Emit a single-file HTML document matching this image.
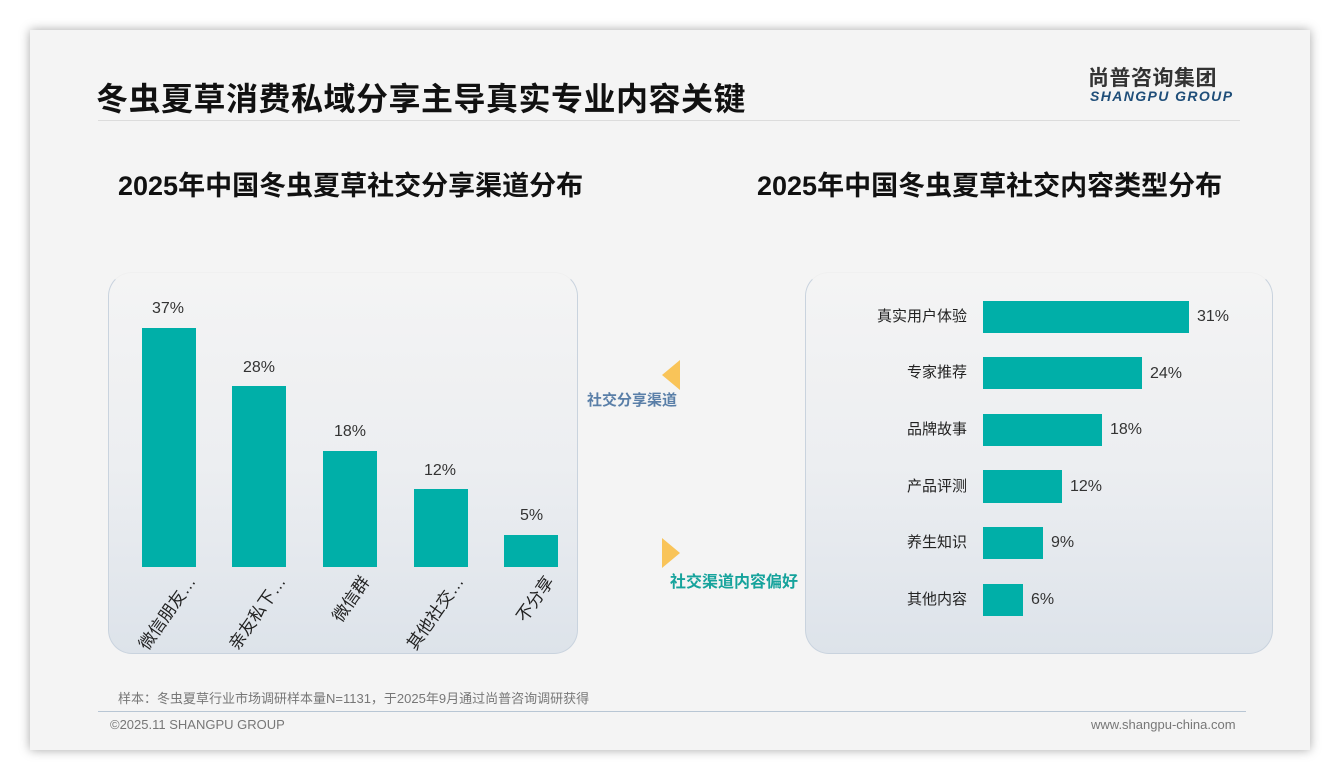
<!DOCTYPE html>
<html><head><meta charset="utf-8"><style>
*{margin:0;padding:0;box-sizing:border-box}
body{width:1340px;height:780px;background:#fff;position:relative;overflow:hidden;font-family:"Liberation Sans","Noto Sans CJK SC",sans-serif}
.card{position:absolute;left:30px;top:30px;width:1280px;height:720px;background:#f4f4f4;box-shadow:0 0 10px rgba(0,0,0,.35)}
.a{position:absolute;white-space:nowrap}
.panel{position:absolute;border-radius:24px;background:linear-gradient(#f4f4f4 0%,#eceef1 50%,#dde3ea 100%);border:1px solid #c9d3de;border-top-color:#f0f0f0}
.bar{position:absolute;background:#00afa8}
.v{position:absolute;font-size:16px;color:#333;white-space:nowrap;line-height:20px}
.xl{position:absolute;font-size:17px;color:#222;transform:rotate(-55deg);transform-origin:right top;white-space:nowrap}
.yl{position:absolute;font-size:15px;color:#222;text-align:right;width:120px;white-space:nowrap;line-height:20px}
</style></head><body>
<div class="card"></div>
<div class="a" style="left:96px;top:74px;font-size:32px;font-weight:bold;color:#111;letter-spacing:0.5px">冬虫夏草消费私域分享主导真实专业内容关键</div>
<div style="position:absolute;left:98px;top:120px;width:1142px;height:1px;background:#dcdcdc"></div>
<div class="a" style="left:1088px;top:62px;font-size:21px;font-weight:bold;color:#333;letter-spacing:0.5px">尚普咨询集团</div>
<div class="a" style="left:1090px;top:88px;font-size:14px;font-weight:bold;font-style:italic;color:#1f4e79;letter-spacing:1.4px">SHANGPU GROUP</div>
<div class="a" style="left:118px;top:164px;font-size:27px;font-weight:bold;color:#111">2025年中国冬虫夏草社交分享渠道分布</div>
<div class="a" style="left:757px;top:164px;font-size:27px;font-weight:bold;color:#111">2025年中国冬虫夏草社交内容类型分布</div>

<div class="panel" style="left:108px;top:272px;width:470px;height:382px"></div>
<div class="panel" style="left:805px;top:272px;width:468px;height:382px"></div>

<div class="bar" style="left:142px;top:328px;width:54px;height:239px"></div>
<div class="bar" style="left:232px;top:386px;width:54px;height:181px"></div>
<div class="bar" style="left:323px;top:451px;width:54px;height:116px"></div>
<div class="bar" style="left:414px;top:489px;width:54px;height:78px"></div>
<div class="bar" style="left:504px;top:535px;width:54px;height:32px"></div>
<div class="v" style="left:152px;top:299px">37%</div>
<div class="v" style="left:243px;top:358px">28%</div>
<div class="v" style="left:334px;top:422px">18%</div>
<div class="v" style="left:424px;top:461px">12%</div>
<div class="v" style="left:520px;top:506px">5%</div>
<div class="xl" style="right:1160px;top:570px">微信朋友…</div>
<div class="xl" style="right:1070px;top:570px">亲友私下…</div>
<div class="xl" style="right:986px;top:570px">微信群</div>
<div class="xl" style="right:892px;top:570px">其他社交…</div>
<div class="xl" style="right:802px;top:570px">不分享</div>

<svg style="position:absolute;left:660px;top:358px" width="22" height="212"><polygon points="20,2 20,32 2,17" fill="#f9c459"/><polygon points="2,180 2,210 20,195" fill="#f9c459"/></svg>
<div class="a" style="left:587px;top:389px;font-size:15px;font-weight:bold;color:#5a7fa8">社交分享渠道</div>
<div class="a" style="left:670px;top:568px;font-size:16px;font-weight:bold;color:#16a39c">社交渠道内容偏好</div>

<div class="bar" style="left:983px;top:301px;width:206px;height:32px"></div>
<div class="bar" style="left:983px;top:357px;width:159px;height:32px"></div>
<div class="bar" style="left:983px;top:414px;width:119px;height:32px"></div>
<div class="bar" style="left:983px;top:470px;width:79px;height:33px"></div>
<div class="bar" style="left:983px;top:527px;width:60px;height:32px"></div>
<div class="bar" style="left:983px;top:584px;width:40px;height:32px"></div>
<div class="yl" style="left:847px;top:307px">真实用户体验</div>
<div class="yl" style="left:847px;top:363px">专家推荐</div>
<div class="yl" style="left:847px;top:420px">品牌故事</div>
<div class="yl" style="left:847px;top:477px">产品评测</div>
<div class="yl" style="left:847px;top:533px">养生知识</div>
<div class="yl" style="left:847px;top:590px">其他内容</div>
<div class="v" style="left:1197px;top:307px">31%</div>
<div class="v" style="left:1150px;top:364px">24%</div>
<div class="v" style="left:1110px;top:420px">18%</div>
<div class="v" style="left:1070px;top:477px">12%</div>
<div class="v" style="left:1051px;top:533px">9%</div>
<div class="v" style="left:1031px;top:590px">6%</div>

<div class="a" style="left:118px;top:688px;font-size:13px;color:#777">样本：冬虫夏草行业市场调研样本量N=1131，于2025年9月通过尚普咨询调研获得</div>
<div style="position:absolute;left:98px;top:711px;width:1148px;height:1px;background:#b8c6d4"></div>
<div class="a" style="left:110px;top:717px;font-size:13px;color:#777">©2025.11 SHANGPU GROUP</div>
<div class="a" style="left:1091px;top:717px;font-size:13px;color:#777">www.shangpu-china.com</div>
</body></html>
